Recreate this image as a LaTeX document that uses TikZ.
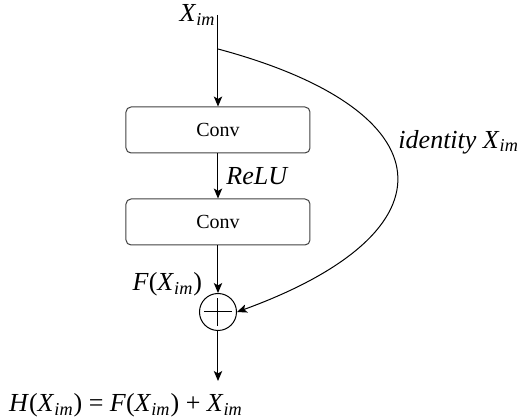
\documentclass[tikz,border=0pt]{standalone}
\usepackage{fontspec}
\setmainfont{Liberation Serif}
\usetikzlibrary{arrows.meta}
\newcommand{\Xim}{\textit{X}\textsubscript{\textit{im}}}

\begin{document}
\begin{tikzpicture}[
  x=0.5pt, y=0.5pt,
  line width=0.5pt,
  block/.style={rectangle, rounded corners=2.5pt, draw=black!75, minimum width=92pt, minimum height=23pt, font=\normalsize},
  adder/.style={circle, draw, minimum size=18.5pt, inner sep=0pt,
    path picture={\draw[-] ([xshift=-7pt]path picture bounding box.center) -- ([xshift=7pt]path picture bounding box.center);
                  \draw[-] ([yshift=-7pt]path picture bounding box.center) -- ([yshift=7pt]path picture bounding box.center);}},
  lbl/.style={font=\fontsize{13}{15}\selectfont, inner sep=1pt},
  -{Stealth[length=5pt, width=4.2pt, inset=1.2pt]},
]
  \useasboundingbox (0,0) rectangle (532,-417);

  \coordinate (in)    at (218,-15);
  \coordinate (split) at (218,-49);
  \node[block] (conv1) at (218,-130) {Conv};
  \node[block] (conv2) at (218,-222) {Conv};
  \node[adder] (plus)  at (218,-312) {};
  \coordinate (out)   at (218,-381);

  \node[lbl, anchor=east] (xin) at (in) {\Xim};
  \node[lbl, anchor=south east] (fx) at (plus.north west) {\textit{F}(\Xim)};
  \node[lbl, anchor=west] (idlbl) at (396,-142) {\textit{identity} \Xim};
  \node[lbl] (hx) at (126,-405) {\textit{H}(\Xim) = \textit{F}(\Xim) + \Xim};

  \draw (in) -- (conv1.north);
  \draw (conv1) -- node[lbl, anchor=west, xshift=3pt] (relu) {\textit{ReLU}} (conv2);
  \draw (conv2) -- (plus);
  \draw (plus) -- (out);
  \draw (split) to[out=-15, in=20, looseness=2.3] (plus.east);
\end{tikzpicture}
\end{document}
